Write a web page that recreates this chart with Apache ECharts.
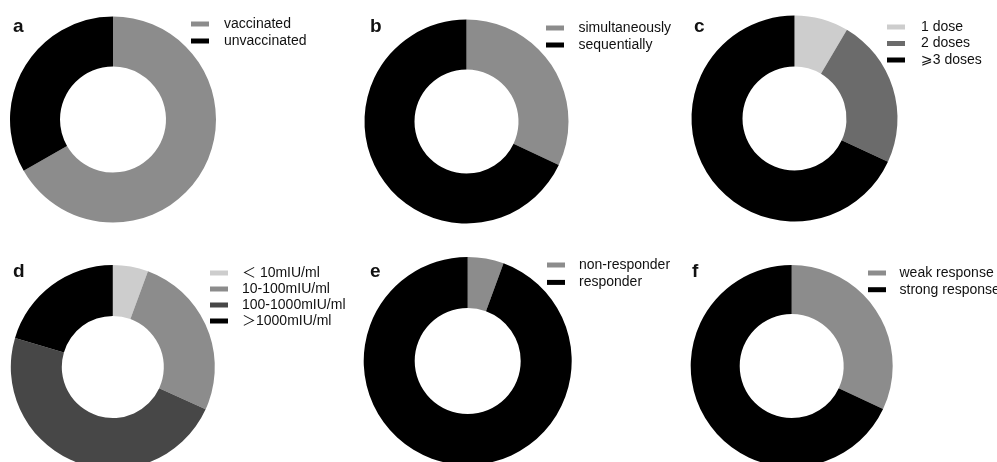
<!DOCTYPE html>
<html>
<head>
<meta charset="utf-8">
<script src="https://cdn.jsdelivr.net/npm/echarts@6/dist/echarts.min.js"></script>
<style>
  html, body { margin: 0; padding: 0; background: #fff; }
  #chart { width: 997px; height: 462px; }
</style>
</head>
<body>
<div id="chart"></div>
<script>
// Panel letters
const panelLetters = ['a', 'b', 'c', 'd', 'e', 'f'];

// a: vaccination status
const vaccinationNames = ['vaccinated', 'unvaccinated'];
const vaccinationValues = [66.7, 33.3];

// b: vaccination schedule
const scheduleNames = ['simultaneously', 'sequentially'];
const scheduleValues = [32, 68];

// c: number of doses
const doseNames = ['1 dose', '2 doses', '\u2A7E3 doses'];
const doseValues = [8.5, 23.4, 68.1];

// d: anti-HBs titre
const titreNames = ['\uFF1C 10mIU/ml', '10-100mIU/ml', '100-1000mIU/ml', '\uFF1E1000mIU/ml'];
const titreValues = [5.6, 26.2, 47.8, 20.4];

// e: responder status
const responderNames = ['non-responder', 'responder'];
const responderValues = [5.6, 94.4];

// f: response strength
const strengthNames = ['weak response', 'strong response'];
const strengthValues = [32, 68];

const GRAY = '#8c8c8c', BLACK = '#000000', LIGHT = '#cdcdcd', MID = '#6b6b6b', DARK = '#474747';

// legend: [left, top, row gap, gap between swatch and text]
const panels = [
  { names: vaccinationNames, values: vaccinationValues, colors: [GRAY, BLACK],
    center: [113, 119.5], radius: [53, 103], letter: [13, 17], legend: [191, 17, 3, 10] },
  { names: scheduleNames, values: scheduleValues, colors: [GRAY, BLACK],
    center: [466.5, 121.5], radius: [52, 102], letter: [370, 17], legend: [546, 21, 3, 9.5] },
  { names: doseNames, values: doseValues, colors: [LIGHT, MID, BLACK],
    center: [794.5, 118.5], radius: [52, 103], letter: [694, 17], legend: [887, 20, 2.5, 11] },
  { names: titreNames, values: titreValues, colors: [LIGHT, GRAY, DARK, BLACK],
    center: [112.8, 367], radius: [51, 102], letter: [13, 262], legend: [210, 266, 2, 9] },
  { names: responderNames, values: responderValues, colors: [GRAY, BLACK],
    center: [467.7, 361], radius: [53, 104], letter: [370, 262], legend: [547, 258, 3.4, 9] },
  { names: strengthNames, values: strengthValues, colors: [GRAY, BLACK],
    center: [791.7, 366], radius: [52, 101], letter: [692, 262], legend: [868, 266, 2.7, 8.5] }
];

const FONT = '"Liberation Sans", Arial, "DejaVu Sans", "Noto Sans CJK SC", sans-serif';

const option = {
  backgroundColor: '#ffffff',
  animation: false,
  title: panels.map((p, i) => ({
    text: panelLetters[i],
    left: p.letter[0],
    top: p.letter[1],
    padding: 0,
    textStyle: { fontFamily: FONT, fontSize: 19, fontWeight: 'bold', color: '#111' }
  })),
  legend: panels.map(p => ({
    orient: 'vertical',
    left: p.legend[0],
    top: p.legend[1],
    padding: 0,
    itemWidth: 18,
    itemHeight: 5,
    itemGap: p.legend[2],
    icon: 'rect',
    selectedMode: false,
    data: p.names,
    textStyle: { fontFamily: FONT, fontSize: 14, lineHeight: 14, color: '#111', padding: [0, 0, 0, p.legend[3]] }
  })),
  series: panels.map(p => ({
    type: 'pie',
    center: p.center,
    radius: p.radius,
    startAngle: 90,
    clockwise: true,
    silent: true,
    label: { show: false },
    labelLine: { show: false },
    itemStyle: { borderWidth: 0 },
    data: p.names.map((n, k) => ({ name: n, value: p.values[k], itemStyle: { color: p.colors[k] } }))
  }))
};

const chart = echarts.init(document.getElementById('chart'), null, { renderer: 'canvas' });
chart.setOption(option);
</script>
</body>
</html>
